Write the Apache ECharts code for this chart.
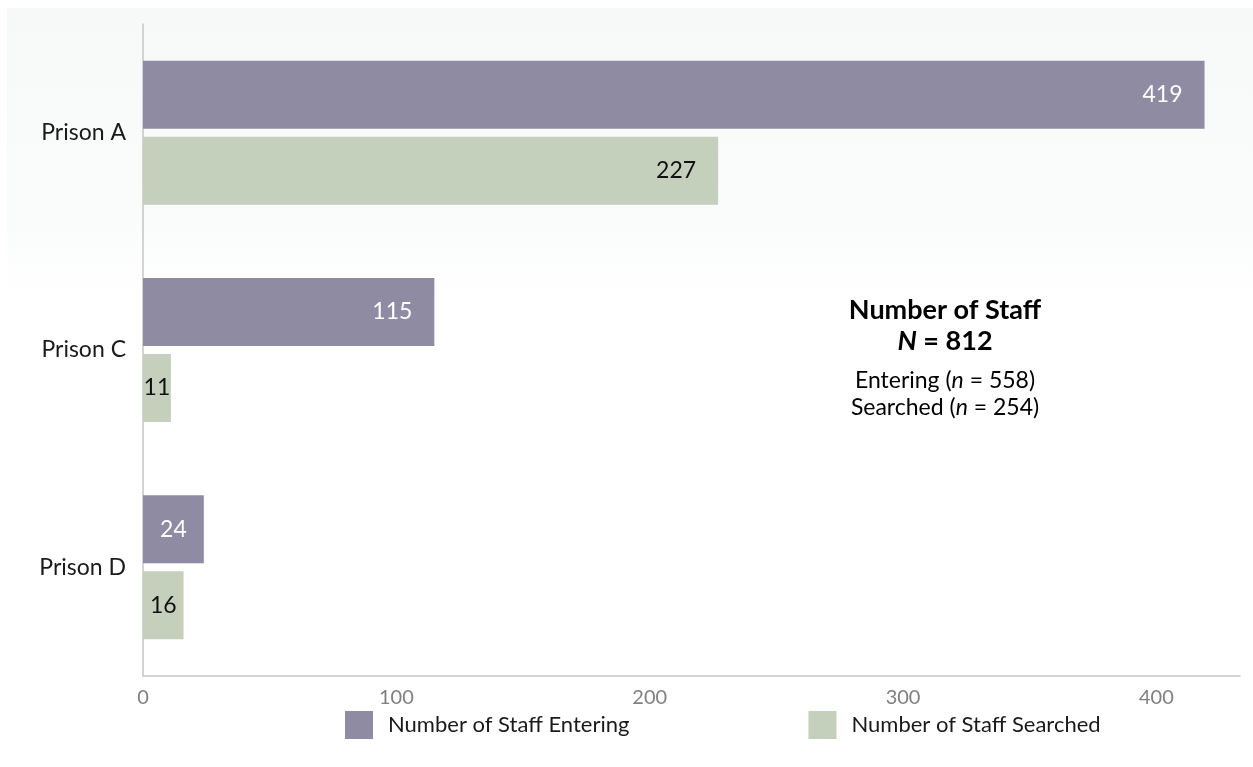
<!DOCTYPE html>
<html>
<head>
<meta charset="utf-8">
<script src="https://cdn.jsdelivr.net/npm/echarts@6/dist/echarts.min.js"></script>
<style>
html,body{margin:0;padding:0;background:#fff;}
#chart{width:1253px;height:767px;}
</style>
</head>
<body>
<div id="chart"></div>
<script>
const categories = ['Prison A', 'Prison C', 'Prison D'];
const seriesNames = ['Number of Staff Entering', 'Number of Staff Searched'];
const entering = [419, 115, 24];
const searched = [227, 11, 16];
const xTicks = [0, 100, 200, 300, 400];

const FONT = 'Lato, "Open Sans", sans-serif';

function labelled(values) {
  return values.map(v => ({
    value: v,
    label: v < 50 ? { position: 'inside' } : { position: 'insideRight', distance: 22 }
  }));
}

const richNote = {
  r: { fontSize: 23, fontFamily: FONT, color: '#111' },
  i: { fontSize: 23, fontStyle: 'italic', fontFamily: FONT, color: '#111' },
  bi: { fontSize: 27, fontStyle: 'italic', fontWeight: 'bold', fontFamily: FONT, color: '#111' },
  b: { fontSize: 27, fontWeight: 'bold', fontFamily: FONT, color: '#111' }
};

const chart = echarts.init(document.getElementById('chart'));
chart.setOption({
  backgroundColor: '#ffffff',
  animation: false,
  textStyle: { fontFamily: FONT },
  graphic: [
    {
      type: 'rect', z: -10, silent: true,
      shape: { x: 7, y: 8, width: 1246, height: 290 },
      style: {
        fill: new echarts.graphic.LinearGradient(0, 0, 0, 1, [
          { offset: 0, color: '#f7f8f8' },
          { offset: 0.7, color: '#fafbfb' },
          { offset: 1, color: '#ffffff' }
        ])
      }
    },
    { type: 'text', x: 945, y: 310, z: 10, style: { text: '{b|Number of Staff}', align: 'center', verticalAlign: 'middle', rich: richNote } },
    { type: 'text', x: 945, y: 341, z: 10, style: { text: '{bi|N}{b| = 812}', align: 'center', verticalAlign: 'middle', rich: richNote } },
    { type: 'text', x: 945, y: 381, z: 10, style: { text: '{r|Entering (}{i|n}{r| = 558)}', align: 'center', verticalAlign: 'middle', rich: richNote } },
    { type: 'text', x: 945, y: 408, z: 10, style: { text: '{r|Searched (}{i|n}{r| = 254)}', align: 'center', verticalAlign: 'middle', rich: richNote } }
  ],
  legend: {
    left: 345, top: 711, padding: 0,
    itemWidth: 28, itemHeight: 28, itemGap: 179,
    icon: 'rect',
    textStyle: { fontSize: 22, color: '#1a1a1a', fontFamily: FONT, padding: [0, 0, 0, 10] },
    data: seriesNames
  },
  grid: { left: 143, right: 13, top: 24, bottom: 91, containLabel: false },
  xAxis: {
    type: 'value', min: 0, max: 433, interval: 100,
    axisLine: { show: true, lineStyle: { color: '#c6c6c6', width: 1.5 } },
    axisTick: { show: false },
    splitLine: { show: false },
    axisLabel: {
      color: '#808080', fontSize: 20, fontFamily: FONT, margin: 12,
      showMaxLabel: false,
      formatter: v => (xTicks.indexOf(v) >= 0 ? String(v) : '')
    }
  },
  yAxis: {
    type: 'category', data: categories, inverse: true,
    axisLine: { show: true, lineStyle: { color: '#c6c6c6', width: 1.5 } },
    axisTick: { show: false },
    axisLabel: { color: '#1a1a1a', fontSize: 23, fontFamily: FONT, margin: 17 }
  },
  series: [
    {
      name: seriesNames[0], type: 'bar', barWidth: 68, barGap: '11.8%',
      itemStyle: { color: '#8f8ba3' },
      label: { show: true, color: '#ffffff', fontSize: 23, fontFamily: FONT },
      data: labelled(entering)
    },
    {
      name: seriesNames[1], type: 'bar', barWidth: 68, barGap: '11.8%',
      itemStyle: { color: '#c4cfbc' },
      label: { show: true, color: '#111111', fontSize: 23, fontFamily: FONT },
      data: labelled(searched)
    }
  ]
});
</script>
</body>
</html>
